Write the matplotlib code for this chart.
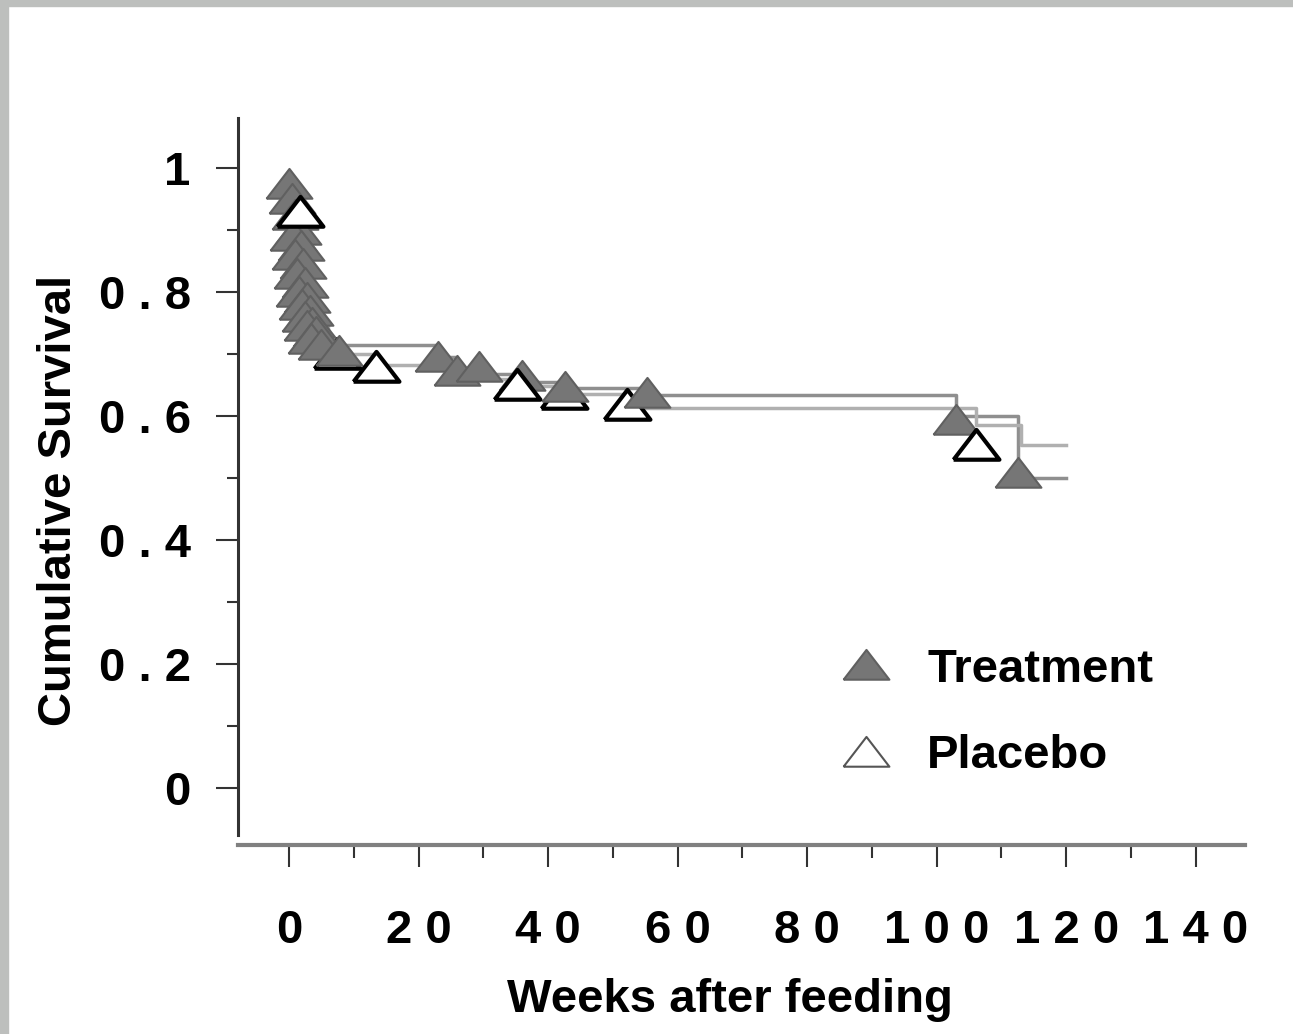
import matplotlib.pyplot as plt
import matplotlib.patches as patches
from matplotlib.lines import Line2D

plt.rcParams['font.family'] = ['Liberation Sans', 'DejaVu Sans']
plt.rcParams['font.weight'] = 'bold'

# step curves (weeks, cumulative survival)
trt_weeks = [0, 0.3, 0.6, 1.0, 1.4, 1.8, 2.2, 2.6, 3.0, 3.5, 4.0, 5.0, 7.5, 23, 26, 29, 36, 42.5, 55, 103, 112.5, 120]
trt_surv = [0.98, 0.95, 0.92, 0.89, 0.86, 0.83, 0.80, 0.78, 0.76, 0.745, 0.73, 0.72, 0.714, 0.695, 0.675, 0.668, 0.655, 0.645, 0.634, 0.60, 0.50, 0.50]
pla_weeks = [0, 1.7, 2.5, 3.5, 4.5, 6.0, 7.5, 13.5, 26, 31, 35.5, 42, 52, 106, 113, 120]
pla_surv = [0.96, 0.93, 0.87, 0.80, 0.75, 0.72, 0.70, 0.682, 0.668, 0.66, 0.648, 0.635, 0.613, 0.585, 0.553, 0.553]

# triangle marks
trt_mark_x = [0, 0.4, 0.9, 1.4, 0.6, 1.8, 1.0, 2.2, 1.2, 2.5, 1.6, 2.8, 2.0, 3.2, 2.4, 3.6, 2.8, 4.2, 3.4, 5.0,
              7.8, 23, 26, 29.4, 36, 42.6, 55.2, 103, 112.5]
trt_mark_y = [0.975, 0.95, 0.925, 0.90, 0.89, 0.875, 0.86, 0.845, 0.83, 0.815, 0.80, 0.79, 0.78, 0.77, 0.76, 0.75, 0.745, 0.735, 0.725, 0.715,
              0.705, 0.695, 0.672, 0.68, 0.665, 0.647, 0.637, 0.594, 0.508]
# placebo marks drawn over the treatment ones
pla_front_x = [1.7, 13.4, 35.2, 106]
pla_front_y = [0.93, 0.68, 0.65, 0.553]
# placebo marks partly hidden behind treatment ones
pla_back_x = [7.4, 42.5, 52.2]
pla_back_y = [0.70, 0.635, 0.618]

xticks = [0, 20, 40, 60, 80, 100, 120, 140]
xticklabels = ['0', '2 0', '4 0', '6 0', '8 0', '1 0 0', '1 2 0', '1 4 0']
yticks = [0, 0.2, 0.4, 0.6, 0.8, 1.0]
yticklabels = ['0', '0 . 2', '0 . 4', '0 . 6', '0 . 8', '1']

tri = [(-1, -0.62), (1, -0.62), (0, 0.68), (-1, -0.62)]

fig = plt.figure(figsize=(12.93, 10.34), dpi=100)
fig.patches.append(patches.Rectangle((0, 1 - 6/1034), 1, 6/1034, transform=fig.transFigure,
                                     color='#bdbfbd', zorder=0))
fig.patches.append(patches.Rectangle((0, 0), 8/1293, 1, transform=fig.transFigure,
                                     color='#bdbfbd', zorder=0))
ax = fig.add_axes([238/1293, 1 - 845/1034, 1007/1293, 727/1034])

ax.plot(trt_weeks, trt_surv, drawstyle='steps-post', color='#8f8f8f', lw=2.5, zorder=2)
ax.plot(pla_weeks, pla_surv, drawstyle='steps-post', color='#b0b0b0', lw=2.5, zorder=2)

ax.plot(pla_back_x, pla_back_y, ls='none', marker=tri, ms=33, mfc='white', mec='black', mew=3, zorder=3)
ax.plot(trt_mark_x, trt_mark_y, ls='none', marker=tri, ms=33, mfc='#767676', mec='#606060', mew=1.5, zorder=4)
ax.plot(pla_front_x, pla_front_y, ls='none', marker=tri, ms=33, mfc='white', mec='black', mew=3, zorder=5)

ax.set_xlim(-7.87, 147.6)
ax.set_ylim(-0.092, 1.081)
for s in ['top', 'right']:
    ax.spines[s].set_visible(False)
ax.spines['left'].set_bounds(-0.076, 1.081)
ax.spines['left'].set_linewidth(2.2)
ax.spines['left'].set_color('#333333')
ax.spines['bottom'].set_linewidth(3)
ax.spines['bottom'].set_color('#808080')

ax.set_xticks(xticks)
ax.set_xticklabels(xticklabels)
ax.set_xticks(range(10, 141, 20), minor=True)
ax.set_yticks(yticks)
ax.set_yticklabels(yticklabels)
ax.set_yticks([0.1, 0.3, 0.5, 0.7, 0.9], minor=True)
ax.tick_params(axis='x', which='major', length=16, width=1.5, color='#333333', pad=30, labelsize=34)
ax.tick_params(axis='x', which='minor', length=9, width=1.5, color='#333333')
ax.tick_params(axis='y', which='major', length=16, width=1.5, color='#333333', pad=18, labelsize=34)
ax.tick_params(axis='y', which='minor', length=8, width=1.5, color='#333333')

ax.set_xlabel('Weeks after feeding', fontsize=34, fontweight='bold')
ax.set_ylabel('Cumulative Survival', fontsize=34, fontweight='bold')
ax.xaxis.set_label_coords(0.4886, -0.213)
ax.yaxis.set_label_coords(-0.178, 0.4746)
ax.xaxis.label.set_va('center')
ax.yaxis.label.set_va('center')

handles = [Line2D([], [], ls='none', marker=tri, ms=33, mfc='#767676', mec='#606060', mew=1.5),
           Line2D([], [], ls='none', marker=tri, ms=33, mfc='white', mec='#555555', mew=1.5)]
ax.legend(handles, ['Treatment', 'Placebo'], loc='upper left', bbox_to_anchor=(842/1293, 1 - 648/1034),
          bbox_transform=fig.transFigure, frameon=False, fontsize=34, handlelength=1.0,
          handletextpad=0.8, labelspacing=0.9, borderpad=0, borderaxespad=0)

fig.savefig('out.png', dpi=100)
